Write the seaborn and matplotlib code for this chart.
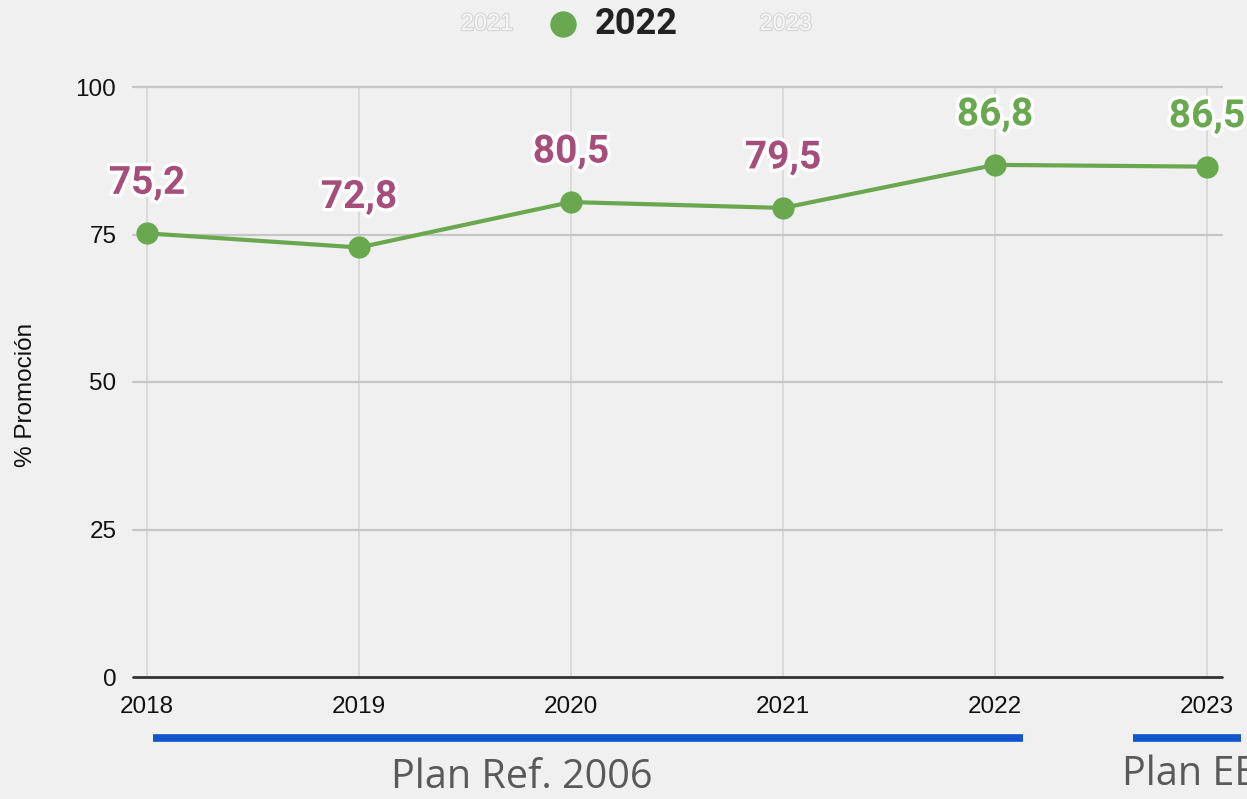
import matplotlib
matplotlib.use("Agg")
import matplotlib.pyplot as plt
import matplotlib.patheffects as pe
from matplotlib.lines import Line2D
from matplotlib.transforms import blended_transform_factory
import seaborn as sns
import pandas as pd

# Promotion rate by year
years = [2018, 2019, 2020, 2021, 2022, 2023]
promocion = [75.2, 72.8, 80.5, 79.5, 86.8, 86.5]
value_labels = ["75,2", "72,8", "80,5", "79,5", "86,8", "86,5"]
label_colors = ["#a64d79", "#a64d79", "#a64d79", "#a64d79", "#6aa84f", "#6aa84f"]
y_ticks = [0, 25, 50, 75, 100]
legend_years = ["2021", "2022", "2023"]
plan_names = ["Plan Ref. 2006", "Plan EEMM 2023"]
plan_spans = [(2018.03, 2022.13), (2022.65, 2023.16)]

GREEN = "#6aa84f"
BG = "#f0f0f0"

sns.set_theme(style="white")
plt.rcParams["font.family"] = ["Liberation Sans", "DejaVu Sans"]

fig = plt.figure(figsize=(12.47, 7.99), dpi=100, facecolor=BG)
W, H = 1247, 799
ax = fig.add_axes([133 / W, (H - 677) / H, (1222 - 133) / W, (677 - 87) / H])
ax.set_facecolor(BG)

df = pd.DataFrame({"Año": years, "Promoción": promocion})

# grid
for y in y_ticks:
    ax.axhline(y, color="#333333" if y == 0 else "#c6c6c6",
               lw=2 if y == 0 else 1.6, zorder=1, clip_on=False)
for x in years:
    ax.axvline(x, color="#d6d6d6", lw=1.2, zorder=0.5)

sns.lineplot(data=df, x="Año", y="Promoción", ax=ax, color=GREEN, lw=3,
             marker="o", markersize=16, markeredgewidth=0, zorder=3)

ax.set_xlim(2017.934, 2023.071)
ax.set_ylim(0, 100)
ax.set_xticks(years)
ax.set_xticklabels([str(y) for y in years])
ax.set_yticks(y_ticks)
ax.tick_params(axis="both", length=0, labelsize=17.5, colors="#111111")
ax.tick_params(axis="x", pad=14)
ax.tick_params(axis="y", pad=12)
for s in ax.spines.values():
    s.set_visible(False)
ax.set_xlabel("")
ax.set_ylabel("% Promoción", fontsize=17.5, color="#111111")
ax.yaxis.set_label_coords(-0.088, 0.478)

# value labels
for x, v, t, c in zip(years, promocion, value_labels, label_colors):
    ax.annotate(t, (x, v), xytext=(0, 36), textcoords="offset points",
                ha="center", va="center", fontsize=28, fontweight="bold",
                family=["Roboto", "DejaVu Sans"], color=c, zorder=5,
                annotation_clip=False,
                path_effects=[pe.withStroke(linewidth=5, foreground="white")])

# legend row
faded = [pe.withStroke(linewidth=1.6, foreground="#d6d6d6")]
fig.text(487 / W, 1 - 24 / H, legend_years[0], ha="center", va="center",
         fontsize=17, color="#f6f6f6", path_effects=faded)
fig.text(812 / W, 1 - 24 / H, legend_years[2], ha="right", va="center",
         fontsize=17, color="#f6f6f6", path_effects=faded)
fig.add_artist(Line2D([563 / W], [1 - 24 / H], marker="o", markersize=19,
                      color=GREEN, markeredgewidth=0, transform=fig.transFigure))
fig.text(595 / W, 1 - 24 / H, legend_years[1], ha="left", va="center",
         fontsize=26, fontweight="bold", color="#222222",
         family=["Roboto", "DejaVu Sans"])

# curriculum plan bands under the axis
tr = blended_transform_factory(ax.transData, fig.transFigure)
for (x0, x1), name in zip(plan_spans, plan_names):
    ax.add_line(Line2D([x0, x1], [1 - 738 / H, 1 - 738 / H], color="#1155cc",
                       lw=5.5, solid_capstyle="butt", transform=tr, clip_on=False))
fig.text(391 / W, 1 - 778 / H, plan_names[0], ha="left", va="center",
         fontsize=28.5, color="#595959", family=["Open Sans", "DejaVu Sans"])
fig.text(1122 / W, 1 - 775 / H, plan_names[1], ha="left", va="center",
         fontsize=28.5, color="#595959", family=["Open Sans", "DejaVu Sans"])

fig.savefig("out.png", dpi=100, facecolor=BG)
